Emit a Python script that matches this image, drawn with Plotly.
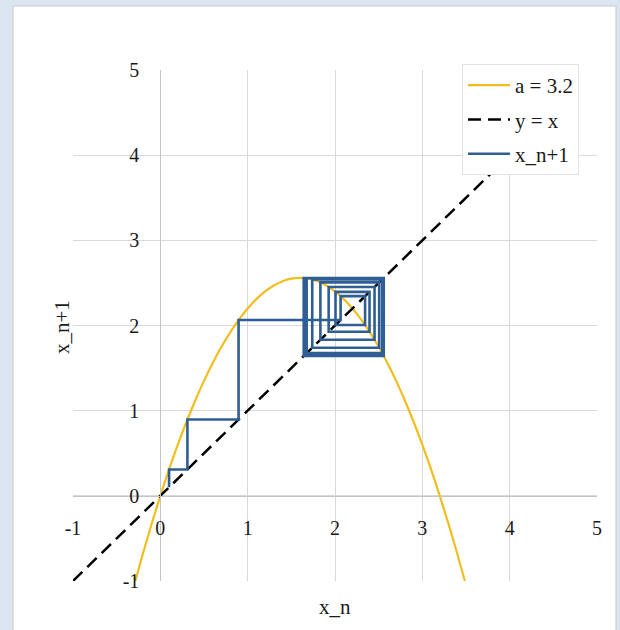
import plotly.graph_objects as go

# Map x_{n+1} = f(x_n) sampled on a grid, a = 3.2
curve_x = [-0.3, -0.2, -0.1, 0.0, 0.1, 0.2, 0.3, 0.4, 0.5, 0.6, 0.7, 0.8, 0.9,
           1.0, 1.1, 1.2, 1.3, 1.4, 1.5, 1.6, 1.7, 1.8, 1.9, 2.0, 2.1, 2.2,
           2.3, 2.4, 2.5, 2.6, 2.7, 2.8, 2.9, 3.0, 3.1, 3.2, 3.3, 3.4, 3.5]
curve_y = [-1.05, -0.68, -0.33, 0.0, 0.31, 0.60, 0.87, 1.12, 1.35, 1.56, 1.75, 1.92, 2.07,
           2.20, 2.31, 2.40, 2.47, 2.52, 2.55, 2.56, 2.55, 2.52, 2.47, 2.40, 2.31, 2.20,
           2.07, 1.92, 1.75, 1.56, 1.35, 1.12, 0.87, 0.60, 0.31, 0.0, -0.33, -0.68, -1.05]

# Identity line
diag_x = [-1, 4]
diag_y = [-1, 4]

# Successive iterates x_0, x_1, x_2, ...
orbit = [0.1, 0.31, 0.8959, 2.0642, 2.3445, 2.0058, 2.3954, 1.9274, 2.4528, 1.8327,
         2.5058, 1.7394, 2.5406, 1.6754, 2.5543, 1.6493, 2.5576, 1.6431, 2.5581, 1.6420,
         2.5582, 1.6418, 2.5583, 1.6417, 2.5583, 1.6417, 2.5583, 1.6417, 2.5583, 1.6417,
         2.5583, 1.6417, 2.5583, 1.6417, 2.5583, 1.6417, 2.5583, 1.6417, 2.5583, 1.6417]

tick_vals = [-1, 0, 1, 2, 3, 4, 5]
tick_text = ["-1", "0", "1", "2", "3", "4", "5"]

# Cobweb staircase: (x0,x0) -> (x0,x1) -> (x1,x1) -> (x1,x2) -> ...
web_x, web_y = [orbit[0]], [orbit[0]]
for cur, nxt in zip(orbit[:-1], orbit[1:]):
    web_x += [cur, nxt]
    web_y += [nxt, nxt]

W, H = 620, 630
L, R, T, B = 73, 23, 70, 49
pw, ph = W - L - R, H - T - B


def px_x(p):
    return (p - L) / pw


def px_y(p):
    return (H - B - p) / ph


FONT = "Liberation Serif"
TXT = "#1a1a1a"

fig = go.Figure()
fig.add_trace(go.Scatter(x=curve_x, y=curve_y, mode="lines", name="a = 3.2",
                         line=dict(color="#F2BE1F", width=2.2, shape="spline"),
                         legendgroup="g1"))
fig.add_trace(go.Scatter(x=diag_x, y=diag_y, mode="lines", name="y = x",
                         line=dict(color="#000000", width=2.5, dash="13px,7px"),
                         legendgroup="g2"))
fig.add_trace(go.Scatter(x=web_x, y=web_y, mode="lines", name="x_n+1",
                         line=dict(color="#2E5E92", width=2.6),
                         legendgroup="g3"))

axis_common = dict(
    range=[-1, 5], tickvals=tick_vals, ticktext=tick_text,
    showgrid=True, gridcolor="#d9d9d9", gridwidth=1,
    zeroline=False, showline=True, linecolor="#c4c4c4", linewidth=1,
    ticks="", tickfont=dict(family=FONT, size=20, color=TXT),
    anchor="free", position=1 / 6, fixedrange=True, automargin=False,
)

fig.update_layout(
    width=W, height=H,
    margin=dict(l=L, r=R, t=T, b=B),
    paper_bgcolor="#DCE6F2",
    plot_bgcolor="white",
    xaxis=dict(**axis_common, ticklabelstandoff=14),
    yaxis=dict(**axis_common, ticklabelstandoff=17),
    showlegend=True,
    legend=dict(
        x=px_x(462), xanchor="left", y=px_y(64), yanchor="top",
        bgcolor="white", bordercolor="#e3e3e3", borderwidth=1,
        font=dict(family=FONT, size=21, color=TXT),
        itemwidth=42, tracegroupgap=4, traceorder="grouped",
    ),
    shapes=[
        dict(type="rect", xref="paper", yref="paper", layer="below",
             x0=px_x(13), x1=px_x(616), y0=px_y(640), y1=px_y(6),
             fillcolor="white", line=dict(color="#c8c8c8", width=1)),
    ],
    annotations=[
        dict(text="x_n", xref="paper", yref="paper", x=0.5, y=px_y(607),
             showarrow=False, xanchor="center", yanchor="middle",
             font=dict(family=FONT, size=21, color=TXT)),
        dict(text="x_n+1", xref="paper", yref="paper", x=px_x(62), y=px_y(327),
             showarrow=False, xanchor="center", yanchor="middle", textangle=-90,
             font=dict(family=FONT, size=21, color=TXT)),
    ],
)

fig.write_html("out.html")
